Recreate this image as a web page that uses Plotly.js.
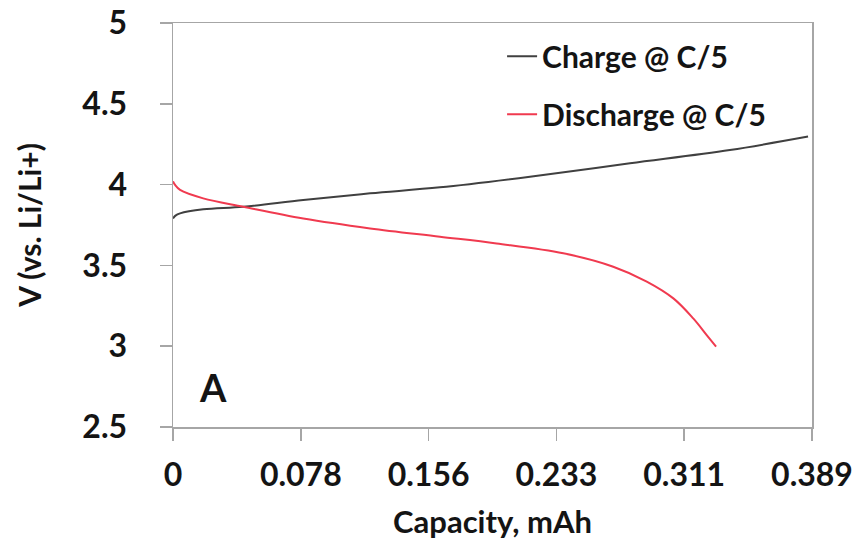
<!DOCTYPE html>
<html>
<head>
<meta charset="utf-8">
<script src="https://cdn.plot.ly/plotly-3.0.1.min.js"></script>
<style>
  html, body { margin: 0; padding: 0; background: #ffffff; }
  #chart { width: 863px; height: 543px; }
</style>
</head>
<body>
<div id="chart"></div>
<script>
// Charge curve @ C/5
const chargeCapacity = [0, 0.0015, 0.0043, 0.0184, 0.0428, 0.0793, 0.12, 0.1625, 0.2173, 0.2782, 0.339, 0.3866];
const chargeVoltage  = [3.79, 3.808, 3.822, 3.847, 3.863, 3.905, 3.946, 3.983, 4.049, 4.132, 4.214, 4.297];

// Discharge curve @ C/5
const dischargeCapacity = [0, 0.0015, 0.0043, 0.0184, 0.0428, 0.0793, 0.12, 0.1625, 0.197, 0.2376, 0.268, 0.2884, 0.3046, 0.3167, 0.3249, 0.3306];
const dischargeVoltage  = [4.02, 3.995, 3.967, 3.915, 3.863, 3.79, 3.729, 3.678, 3.636, 3.575, 3.492, 3.40, 3.296, 3.172, 3.069, 2.997];

// Axis ticks
const xTickVals = [0, 0.0778, 0.1556, 0.2334, 0.3112, 0.389];
const xTickText = ["0", "0.078", "0.156", "0.233", "0.311", "0.389"];
const yTickVals = [2.5, 3, 3.5, 4, 4.5, 5];
const yTickText = ["2.5", "3", "3.5", "4", "4.5", "5"];

const seriesNames = ["Charge @ C/5", "Discharge @ C/5"];

const FONT = "Lato, 'Open Sans', sans-serif";
const TXT = "#141414";
const AX = "#a6a6a6";

const traces = [
  {
    x: chargeCapacity, y: chargeVoltage, name: seriesNames[0],
    type: "scatter", mode: "lines", legendgroup: "g1",
    line: { color: "#404040", width: 2, shape: "spline", smoothing: 1 }
  },
  {
    x: dischargeCapacity, y: dischargeVoltage, name: seriesNames[1],
    type: "scatter", mode: "lines", legendgroup: "g2",
    line: { color: "#f03a4f", width: 2, shape: "spline", smoothing: 1 }
  }
];

const layout = {
  width: 863, height: 543,
  margin: { l: 173, r: 51, t: 23, b: 116 },
  paper_bgcolor: "#ffffff", plot_bgcolor: "#ffffff",
  font: { family: FONT, color: TXT, size: 30, weight: 700 },
  showlegend: true,
  legend: {
    x: 0.515, xanchor: "left", y: 0.982, yanchor: "top",
    bgcolor: "rgba(0,0,0,0)", borderwidth: 0,
    font: { family: FONT, size: 30, color: TXT, weight: 700 },
    traceorder: "grouped", tracegroupgap: 16, itemwidth: 30
  },
  xaxis: {
    range: [0, 0.389], tickmode: "array", tickvals: xTickVals, ticktext: xTickText,
    showgrid: false, zeroline: false,
    showline: true, linecolor: AX, linewidth: 1.5, mirror: true,
    ticks: "outside", ticklen: 12, tickcolor: AX, tickwidth: 1.5,
    ticklabelstandoff: 7,
    tickfont: { family: FONT, size: 32, color: TXT, weight: 700 },
    title: { text: "Capacity, mAh", font: { family: FONT, size: 31, color: TXT, weight: 700 }, standoff: 19 }
  },
  yaxis: {
    range: [2.5, 5], tickmode: "array", tickvals: yTickVals, ticktext: yTickText,
    showgrid: false, zeroline: false,
    showline: true, linecolor: AX, linewidth: 1.5, mirror: true,
    ticks: "outside", ticklen: 12, tickcolor: AX, tickwidth: 1.5,
    ticklabelstandoff: 26,
    tickfont: { family: FONT, size: 32, color: TXT, weight: 700 },
    title: { text: "V (vs. Li/Li+)", font: { family: FONT, size: 30, color: TXT, weight: 700 }, standoff: 32 }
  },
  annotations: [
    {
      text: "A", xref: "paper", yref: "paper", x: 0.063, y: 0.1,
      xanchor: "center", yanchor: "middle", showarrow: false,
      font: { family: FONT, size: 38, color: TXT, weight: 700 }
    }
  ]
};

Plotly.newPlot("chart", traces, layout, { displayModeBar: false, staticPlot: true });
</script>
</body>
</html>
